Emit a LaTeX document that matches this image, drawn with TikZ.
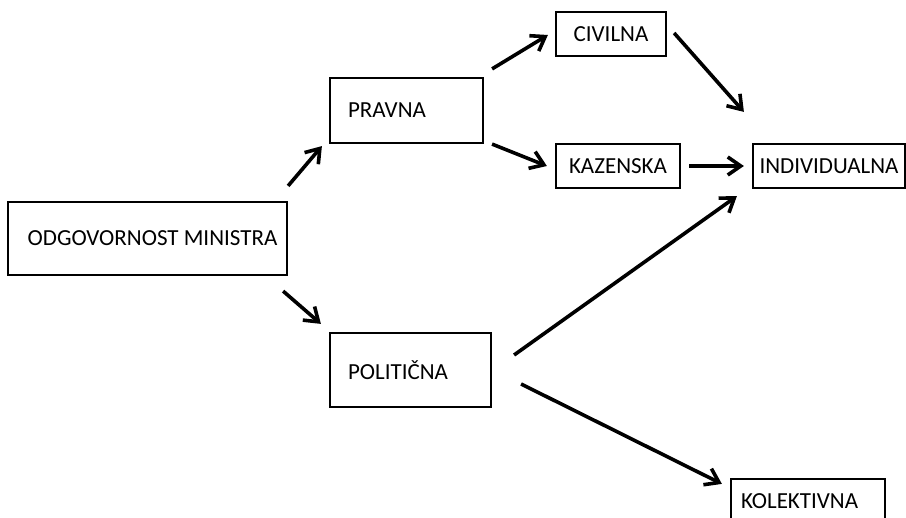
\documentclass[tikz,border=0pt]{standalone}
\usepackage{fontspec}
\setmainfont{Carlito}
\usepackage{tikz}
\usetikzlibrary{arrows.meta, positioning}
\tikzset{
	box/.style={draw, line width=1.1pt, rectangle, inner sep=0pt, font=\fontsize{11.5}{14}\selectfont},
	leftbox/.style={box, align=left, inner xsep=#1},
	arr/.style={-{Straight Barb[length=6.5pt, width=9pt]}, line width=1.8pt},
}

\begin{document}
\begin{tikzpicture}[x=0.5pt, y=-0.5pt]

\clip (0,0) rectangle (906,518);

\node[box, minimum width=139.5pt, minimum height=36.5pt] (odg) at (147.5,238.5) {\hspace{5pt}ODGOVORNOST MINISTRA};

\node[leftbox=9pt, text width=58.5pt, minimum height=32.5pt] (pravna) at (406.5,110.5) {PRAVNA};
\node[leftbox=9pt, text width=62.5pt, minimum height=37pt] (politicna) at (410.5,370) {POLITIČNA};

\node[box, minimum width=55pt, minimum height=22pt] (civilna) at (611,34) {CIVILNA};
\node[box, minimum width=62pt, minimum height=22pt] (kazenska) at (618,166) {KAZENSKA};
\node[box, minimum width=76pt, minimum height=22pt] (indiv) at (829,166) {INDIVIDUALNA};
\node[leftbox=5pt, text width=67pt, minimum height=22pt] (kolektivna) at (808,501) {KOLEKTIVNA};

\draw[arr] ([shift={(0,-15)}]odg.north east) -- ([shift={(-7,2)}]pravna.south west);
\draw[arr] ([shift={(-5,15)}]odg.south east) -- ([shift={(-8,-8)}]politicna.north west);

\draw[arr] ([shift={(8,-8)}]pravna.north east) -- ([shift={(-7,1)}]civilna.west);
\draw[arr] ([shift={(8,0)}]pravna.south east) -- ([shift={(-8,0)}]kazenska.west);

\draw[arr] ([shift={(7,-1)}]civilna.east) -- ([shift={(-8,-31)}]indiv.north west);
\draw[arr] ([shift={(8,0)}]kazenska.east) -- ([shift={(-8,0)}]indiv.west);

\draw[arr] ([shift={(22,-15)}]politicna.east) -- ([shift={(-15,7)}]indiv.south west);
\draw[arr] ([shift={(29,14)}]politicna.east) -- ([shift={(-8,6)}]kolektivna.north west);

\end{tikzpicture}
\end{document}
